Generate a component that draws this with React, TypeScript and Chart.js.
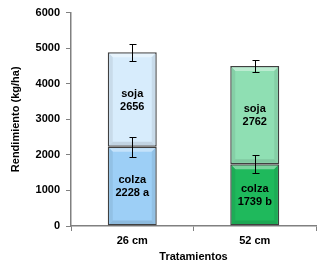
import React, { useEffect, useRef } from "react";
import { Chart, registerables } from "chart.js";

Chart.register(...registerables);

const categories = ["26 cm", "52 cm"];
const colza = [2228, 1739];
const soja = [2656, 2762];
const colzaLabels = ["2228 a", "1739 b"];
const sojaLabels = ["2656", "2762"];
const colzaErr = [280, 255];
const totalErr = [233, 165];
const yTicks = [0, 1000, 2000, 3000, 4000, 5000, 6000];

const colzaColors = ["#9DCFF6", "#1FB95C"];
const sojaColors = ["#D7ECFC", "#8FDFB3"];

const FONT = "'Liberation Sans', Arial, sans-serif";

function shade(hex: string, amt: number) {
  const n = parseInt(hex.slice(1), 16);
  const r = (n >> 16) & 255, g = (n >> 8) & 255, b = n & 255;
  const f = (c: number) => Math.max(0, Math.min(255, Math.round(amt >= 0 ? c + (255 - c) * amt : c * (1 + amt))));
  return `rgb(${f(r)},${f(g)},${f(b)})`;
}

const bevelPlugin = {
  id: "bevel",
  afterDatasetsDraw(chart: any) {
    const ctx = chart.ctx;
    chart.data.datasets.forEach((ds: any, di: number) => {
      const meta = chart.getDatasetMeta(di);
      meta.data.forEach((bar: any, i: number) => {
        const { x, y, base, width } = bar.getProps(["x", "y", "base", "width"], true);
        const l = x - width / 2 + 1.5, r = x + width / 2 - 1.5;
        const t = Math.min(y, base) + 1.5, b = Math.max(y, base) - 1.5;
        const d = 3.5;
        const col = ds.backgroundColor[i];
        ctx.save();
        ctx.fillStyle = shade(col, 0.4);
        ctx.beginPath();
        ctx.moveTo(l, t); ctx.lineTo(r, t); ctx.lineTo(r - d, t + d); ctx.lineTo(l + d, t + d); ctx.closePath(); ctx.fill();
        ctx.fillStyle = shade(col, -0.07);
        ctx.beginPath();
        ctx.moveTo(l, t); ctx.lineTo(l + d, t + d); ctx.lineTo(l + d, b - d); ctx.lineTo(l, b); ctx.closePath(); ctx.fill();
        ctx.beginPath();
        ctx.moveTo(r, t); ctx.lineTo(r - d, t + d); ctx.lineTo(r - d, b - d); ctx.lineTo(r, b); ctx.closePath(); ctx.fill();
        ctx.fillStyle = shade(col, -0.1);
        ctx.beginPath();
        ctx.moveTo(l, b); ctx.lineTo(r, b); ctx.lineTo(r - d, b - d); ctx.lineTo(l + d, b - d); ctx.closePath(); ctx.fill();
        ctx.restore();
      });
    });
  },
};

const overlayPlugin = {
  id: "overlay",
  afterDatasetsDraw(chart: any) {
    const ctx = chart.ctx;
    const xs = chart.scales.x;
    const ys = chart.scales.y;
    ctx.save();
    ctx.strokeStyle = "#000";
    ctx.lineWidth = 1;
    categories.forEach((_, i) => {
      const cx = Math.round(xs.getPixelForValue(i)) + 0.5;
      const pairs = [
        [colza[i], colzaErr[i]],
        [colza[i] + soja[i], totalErr[i]],
      ];
      pairs.forEach(([v, e]) => {
        const y1 = Math.round(ys.getPixelForValue(v + e)) + 0.5;
        const y2 = Math.round(ys.getPixelForValue(v - e)) + 0.5;
        ctx.beginPath();
        ctx.moveTo(cx, y1); ctx.lineTo(cx, y2);
        ctx.moveTo(cx - 3, y1); ctx.lineTo(cx + 4, y1);
        ctx.moveTo(cx - 3, y2); ctx.lineTo(cx + 4, y2);
        ctx.stroke();
      });
    });
    ctx.fillStyle = "#000";
    ctx.font = `bold 11px ${FONT}`;
    ctx.textAlign = "center";
    ctx.textBaseline = "middle";
    categories.forEach((_, i) => {
      const cx = xs.getPixelForValue(i);
      const cm = ys.getPixelForValue(colza[i] / 2);
      ctx.fillText("colza", cx, cm - 6);
      ctx.fillText(colzaLabels[i], cx, cm + 7);
      const sm = ys.getPixelForValue(colza[i] + soja[i] / 2);
      ctx.fillText("soja", cx, sm - 6);
      ctx.fillText(sojaLabels[i], cx, sm + 7);
    });
    ctx.restore();
  },
};

export default function App() {
  const ref = useRef<HTMLCanvasElement>(null);
  useEffect(() => {
    if (!ref.current) return;
    const chart = new Chart(ref.current, {
      type: "bar",
      data: {
        labels: categories,
        datasets: [
          {
            label: "colza",
            data: colza,
            backgroundColor: colzaColors,
            borderColor: "#404040",
            borderWidth: 1.5,
            borderSkipped: false,
            barPercentage: 0.4,
            categoryPercentage: 1,
          },
          {
            label: "soja",
            data: soja,
            backgroundColor: sojaColors,
            borderColor: "#404040",
            borderWidth: 1.5,
            borderSkipped: false,
            barPercentage: 0.4,
            categoryPercentage: 1,
          },
        ],
      },
      options: {
        responsive: false,
        animation: false,
        layout: { padding: { top: 11, right: 11, left: 0, bottom: 0 } },
        plugins: { legend: { display: false }, tooltip: { enabled: false } },
        scales: {
          x: {
            stacked: true,
            offset: true,
            grid: { display: true, offset: true, drawOnChartArea: false, drawTicks: true, tickLength: 5, color: "#808080" },
            border: { display: true, color: "#808080", width: 1.5 },
            ticks: { color: "#000", font: { family: FONT, size: 11, weight: "bold" }, padding: 3 },
            title: { display: true, text: "Tratamientos", color: "#000", font: { family: FONT, size: 11, weight: "bold" }, padding: { top: 0, bottom: 3 } },
            afterFit: (s: any) => { s.height = 41; },
          },
          y: {
            stacked: true,
            min: 0,
            max: 6000,
            afterBuildTicks: (s: any) => { s.ticks = yTicks.map((v) => ({ value: v })); },
            grid: { display: true, drawOnChartArea: false, drawTicks: true, tickLength: 5, color: "#808080" },
            border: { display: true, color: "#808080", width: 1.5 },
            ticks: {
              color: "#000",
              font: { family: FONT, size: 11, weight: "bold" },
              padding: 6,
              callback: (v: any) => String(v),
            },
            title: { display: true, text: "Rendimiento (kg/ha)", color: "#000", font: { family: FONT, size: 11, weight: "bold" }, padding: { top: 9, bottom: 0 } },
            afterFit: (s: any) => { s.width = 71; },
          },
        },
      },
      plugins: [bevelPlugin, overlayPlugin],
    });
    return () => chart.destroy();
  }, []);
  return (
    <div style={{ position: "fixed", left: 0, top: 0, width: 327, height: 267, background: "#fff" }}>
      <canvas ref={ref} width={327} height={267} style={{ display: "block" }} />
    </div>
  );
}
